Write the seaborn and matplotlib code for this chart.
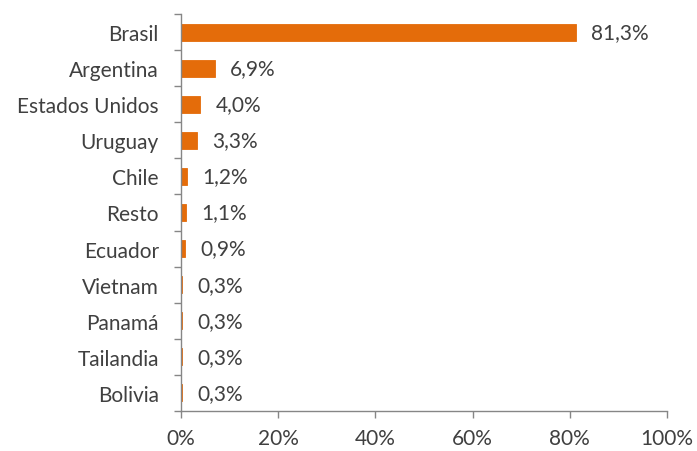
import matplotlib
matplotlib.use("Agg")
import matplotlib.pyplot as plt
import seaborn as sns
import pandas as pd
import numpy as np

paises = ["Brasil", "Argentina", "Estados Unidos", "Uruguay", "Chile", "Resto",
          "Ecuador", "Vietnam", "Panamá", "Tailandia", "Bolivia"]
valores = [81.3, 6.9, 4.0, 3.3, 1.2, 1.1, 0.9, 0.3, 0.3, 0.3, 0.3]
xticks = [0, 20, 40, 60, 80, 100]

sns.set_theme(style="white")
plt.rcParams["font.family"] = ["Lato", "DejaVu Sans"]

txt = "#404040"
gris = "#868686"
naranja = "#E46C0A"
fs = 15

df = pd.DataFrame({"pais": paises, "valor": valores})

fig = plt.figure(figsize=(6.97, 4.52), dpi=100)
ax = fig.add_axes([181 / 697, 40 / 452, 486 / 697, 397 / 452])

sns.barplot(data=df, x="valor", y="pais", color=naranja, saturation=1,
            width=0.47, ax=ax, orient="h", edgecolor=naranja, linewidth=0.6)

# etiquetas de valor
for i, v in enumerate(valores):
    ax.annotate(f"{v:.1f}%".replace(".", ","), xy=(v, i), xytext=(11, 0),
                textcoords="offset points", va="center", ha="left",
                fontsize=fs, color=txt)

ax.set_xlim(0, 100)
ax.set_ylim(len(paises) - 0.5, -0.5)
ax.set_xticks(xticks)
ax.set_xticklabels([f"{t}%" for t in xticks], fontsize=fs, color=txt)
ax.set_yticks(range(len(paises)))
ax.set_yticklabels(paises, fontsize=fs, color=txt)
ax.set_yticks(np.arange(-0.5, len(paises), 1), minor=True)
ax.tick_params(axis="y", which="major", length=0, pad=16)
ax.tick_params(axis="y", which="minor", length=5, color=gris, width=1, left=True)
ax.tick_params(axis="x", length=5, color=gris, width=1, bottom=True, pad=7)
ax.set_xlabel("")
ax.set_ylabel("")

for s in ["top", "right"]:
    ax.spines[s].set_visible(False)
for s in ["left", "bottom"]:
    ax.spines[s].set_color(gris)
    ax.spines[s].set_linewidth(1)

fig.savefig("out.png", dpi=100)
